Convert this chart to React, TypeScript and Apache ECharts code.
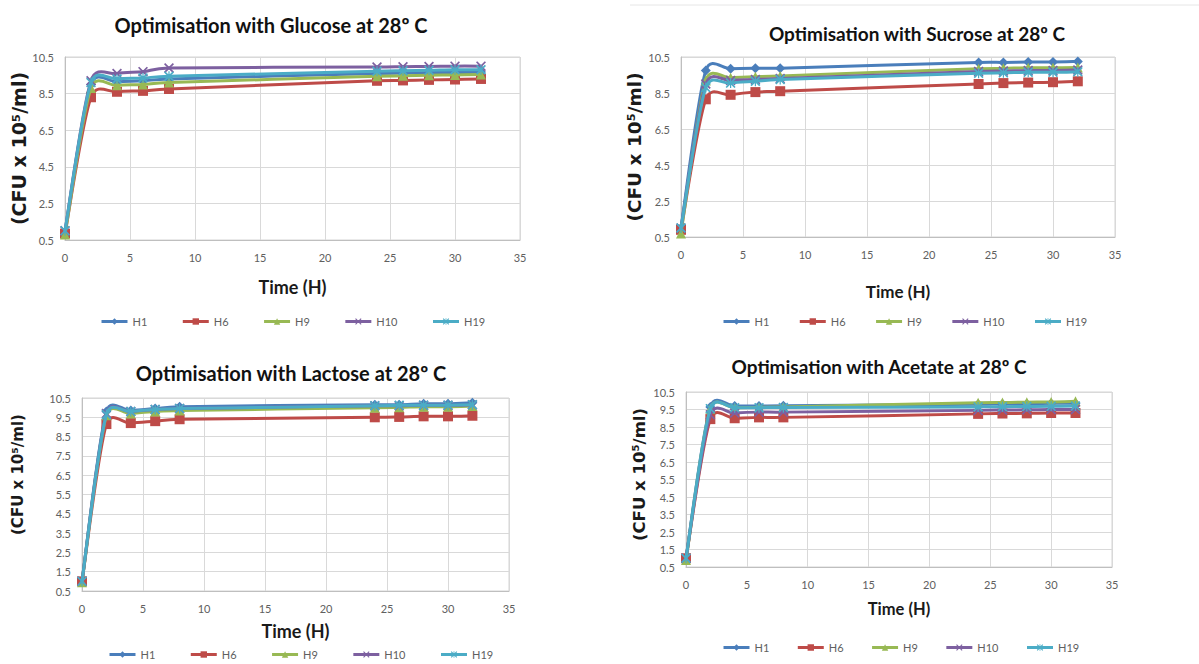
import React, { useEffect, useRef } from 'react';
import * as echarts from 'echarts';

// ---------- data ----------
const times = [0, 2, 4, 6, 8, 24, 26, 28, 30, 32];
const seriesNames = ['H1', 'H6', 'H9', 'H10', 'H19'];

const glucoseH1 = [0.95, 9.0, 9.15, 9.2, 9.3, 9.6, 9.62, 9.65, 9.65, 9.68];
const glucoseH6 = [0.85, 8.3, 8.6, 8.65, 8.75, 9.2, 9.22, 9.25, 9.27, 9.3];
const glucoseH9 = [0.8, 8.8, 8.95, 9.0, 9.1, 9.45, 9.47, 9.5, 9.52, 9.55];
const glucoseH10 = [1.0, 9.2, 9.6, 9.7, 9.9, 9.95, 9.97, 9.98, 10.0, 10.0];
const glucoseH19 = [1.0, 9.1, 9.3, 9.35, 9.45, 9.72, 9.75, 9.77, 9.8, 9.8];

const sucroseH1 = [1.0, 9.75, 9.85, 9.88, 9.88, 10.2, 10.2, 10.22, 10.22, 10.25];
const sucroseH6 = [0.9, 8.15, 8.4, 8.55, 8.6, 9.0, 9.05, 9.08, 9.1, 9.15];
const sucroseH9 = [0.7, 9.2, 9.35, 9.4, 9.45, 9.85, 9.87, 9.9, 9.9, 9.92];
const sucroseH10 = [1.0, 9.0, 9.2, 9.25, 9.3, 9.7, 9.72, 9.75, 9.75, 9.78];
const sucroseH19 = [1.0, 8.8, 9.05, 9.15, 9.25, 9.6, 9.62, 9.65, 9.65, 9.68];

const lactoseH1 = [1.0, 9.8, 9.85, 9.95, 10.05, 10.15, 10.15, 10.2, 10.2, 10.25];
const lactoseH6 = [1.0, 9.15, 9.2, 9.3, 9.4, 9.5, 9.52, 9.55, 9.55, 9.58];
const lactoseH9 = [0.95, 9.6, 9.7, 9.8, 9.85, 10.0, 10.02, 10.05, 10.05, 10.08];
const lactoseH10 = [1.0, 9.7, 9.8, 9.9, 9.95, 10.1, 10.1, 10.12, 10.12, 10.15];
const lactoseH19 = [1.0, 9.65, 9.8, 9.9, 9.95, 10.1, 10.12, 10.13, 10.13, 10.15];

const acetateH1 = [1.0, 9.65, 9.7, 9.7, 9.72, 9.8, 9.82, 9.82, 9.85, 9.85];
const acetateH6 = [1.0, 8.95, 9.0, 9.05, 9.05, 9.25, 9.27, 9.28, 9.3, 9.3];
const acetateH9 = [0.9, 9.55, 9.6, 9.62, 9.65, 9.88, 9.9, 9.92, 9.93, 9.97];
const acetateH10 = [1.0, 9.2, 9.3, 9.35, 9.35, 9.45, 9.47, 9.48, 9.5, 9.5];
const acetateH19 = [1.0, 9.55, 9.6, 9.6, 9.62, 9.65, 9.66, 9.67, 9.68, 9.7];

const titles = [
  'Optimisation with Glucose at 28º C',
  'Optimisation with Sucrose at 28º C',
  'Optimisation with Lactose at 28º C',
  'Optimisation with Acetate at 28º C',
];
const yAxisName = '(CFU x 10⁵/ml)';
const xAxisName = 'Time (H)';

// ---------- styling / layout ----------
const FONT = 'Lato, "Open Sans", sans-serif';
const YFONT = '"DejaVu Sans", Verdana, sans-serif';
const colors = ['#4A7EBB', '#BE4B48', '#98B954', '#7D60A0', '#4BACC6'];
const xSym = 'path://M0,1.2 L1.2,0 L5,3.8 L8.8,0 L10,1.2 L6.2,5 L10,8.8 L8.8,10 L5,6.2 L1.2,10 L0,8.8 L3.8,5 Z';
const starSym =
  'path://M0,1.2 L1.2,0 L5,3.8 L8.8,0 L10,1.2 L6.2,5 L10,8.8 L8.8,10 L5,6.2 L1.2,10 L0,8.8 L3.8,5 Z M4.4,0 L5.6,0 L5.6,10 L4.4,10 Z';
const symbols = ['diamond', 'rect', 'triangle', xSym, starSym];
const symbolSizes = [10, 10, 10, 10, 10];

const panels = [
  {
    data: [glucoseH1, glucoseH6, glucoseH9, glucoseH10, glucoseH19],
    grid: { left: 65, top: 57, width: 455, height: 183 },
    yInterval: 2,
    title: { x: 271, y: 25, size: 20 },
    yName: { size: 19, gap: 37, shift: 0 },
    xName: { size: 18, gap: 38 },
    legend: { left: 100, top: 316, gap: 34 },
  },
  {
    data: [sucroseH1, sucroseH6, sucroseH9, sucroseH10, sucroseH19],
    grid: { left: 681, top: 57, width: 434, height: 180 },
    yInterval: 2,
    title: { x: 917, y: 33, size: 19 },
    yName: { size: 18.5, gap: 33, shift: 0 },
    xName: { size: 17, gap: 46 },
    legend: { left: 722, top: 316, gap: 29 },
  },
  {
    data: [lactoseH1, lactoseH6, lactoseH9, lactoseH10, lactoseH19],
    grid: { left: 82, top: 398, width: 427, height: 193 },
    yInterval: 1,
    title: { x: 291, y: 373, size: 20 },
    yName: { size: 15, gap: 57, shift: 40 },
    xName: { size: 18, gap: 31 },
    legend: { left: 108, top: 649, gap: 34 },
  },
  {
    data: [acetateH1, acetateH6, acetateH9, acetateH10, acetateH19],
    grid: { left: 686, top: 392, width: 426, height: 175 },
    yInterval: 1,
    title: { x: 879, y: 366, size: 19 },
    yName: { size: 16.5, gap: 38, shift: 10 },
    xName: { size: 16.5, gap: 33 },
    legend: { left: 722, top: 642, gap: 27 },
  },
];

// Excel-like smoothed segment (Catmull-Rom tangents, capped to a share of the segment length),
// drawn in pixel space from the axes' own coordinate conversion.
const TENSION = 1 / 6;
const CAP = 0.62;
function makeRenderItem(vals: number[], color: string) {
  return (params: any, api: any) => {
    const k = params.dataIndex;
    const n = times.length;
    if (k >= n - 1) return null;
    const P = (idx: number) => {
      const c = Math.max(0, Math.min(n - 1, idx));
      return api.coord([times[c], vals[c]]);
    };
    const p0 = P(k - 1);
    const p1 = P(k);
    const p2 = P(k + 1);
    const p3 = P(k + 2);
    const segLen = Math.hypot(p2[0] - p1[0], p2[1] - p1[1]);
    const off = (a: number[], b: number[]) => {
      let dx = (b[0] - a[0]) * TENSION;
      let dy = (b[1] - a[1]) * TENSION;
      const len = Math.hypot(dx, dy);
      const max = segLen * CAP;
      if (len > max && len > 0) {
        dx *= max / len;
        dy *= max / len;
      }
      return [dx, dy];
    };
    const o1 = off(p0, p2);
    const o2 = off(p1, p3);
    return {
      type: 'bezierCurve',
      shape: {
        x1: p1[0],
        y1: p1[1],
        x2: p2[0],
        y2: p2[1],
        cpx1: p1[0] + o1[0],
        cpy1: p1[1] + o1[1],
        cpx2: p2[0] - o2[0],
        cpy2: p2[1] - o2[1],
      },
      style: { stroke: color, lineWidth: 3, fill: 'none', lineCap: 'round' },
    };
  };
}

function buildOption() {
  const grid: any[] = [];
  const xAxis: any[] = [];
  const yAxis: any[] = [];
  const legend: any[] = [];
  const series: any[] = [];
  const graphic: any[] = [];

  panels.forEach((p, i) => {
    grid.push({
      ...p.grid,
      show: true,
      borderColor: '#d4d4d4',
      borderWidth: 1,
      containLabel: false,
    });
    xAxis.push({
      type: 'value',
      gridIndex: i,
      min: 0,
      max: 35,
      interval: 5,
      name: xAxisName,
      nameLocation: 'middle',
      nameGap: p.xName.gap,
      nameTextStyle: {
        fontFamily: FONT,
        fontWeight: 'bold',
        fontSize: p.xName.size,
        color: '#1a1a1a',
        verticalAlign: 'top',
      },
      axisLine: { show: true, lineStyle: { color: '#bfbfbf' } },
      axisTick: { show: false },
      axisLabel: { fontFamily: FONT, fontSize: 11, color: '#606060', margin: 12 },
      splitLine: { show: true, lineStyle: { color: '#d9d9d9' } },
    });
    yAxis.push({
      type: 'value',
      gridIndex: i,
      min: 0.5,
      max: 10.5,
      interval: p.yInterval,
      name: yAxisName,
      nameLocation: 'middle',
      nameRotate: 90,
      nameGap: p.yName.gap,
      nameTextStyle: {
        fontFamily: YFONT,
        fontWeight: 'bold',
        fontSize: p.yName.size,
        color: '#1a1a1a',
        padding: [0, 0, 0, p.yName.shift],
      },
      axisLine: { show: true, lineStyle: { color: '#bfbfbf' } },
      axisTick: { show: false },
      axisLabel: {
        fontFamily: FONT,
        fontSize: 11,
        color: '#606060',
        margin: 11,
        formatter: (v: number) => v.toFixed(1),
      },
      splitLine: { show: true, lineStyle: { color: '#d9d9d9' } },
    });
    legend.push({
      data: seriesNames,
      left: p.legend.left,
      top: p.legend.top,
      padding: 0,
      itemGap: p.legend.gap,
      itemWidth: 26,
      itemHeight: 8,
      lineStyle: { opacity: 1, width: 3 },
      textStyle: { fontFamily: FONT, fontSize: 11, color: '#606060' },
      selectedMode: false,
    });
    p.data.forEach((vals, j) => {
      // markers (line itself hidden; the smoothed curve is drawn by the custom series)
      series.push({
        type: 'line',
        name: seriesNames[j],
        xAxisIndex: i,
        yAxisIndex: i,
        data: times.map((t, k) => [t, vals[k]]),
        symbol: symbols[j],
        symbolSize: symbolSizes[j],
        showSymbol: true,
        lineStyle: { width: 3, color: colors[j], opacity: 0 },
        itemStyle: { color: colors[j] },
        z: 3 + 2 * j,
      });
      series.push({
        type: 'custom',
        name: seriesNames[j],
        xAxisIndex: i,
        yAxisIndex: i,
        coordinateSystem: 'cartesian2d',
        data: times.map((t, k) => [t, vals[k]]),
        encode: { x: 0, y: 1 },
        renderItem: makeRenderItem(vals, colors[j]),
        z: 2 + 2 * j,
        silent: true,
      });
    });
    graphic.push({
      type: 'text',
      x: p.title.x,
      y: p.title.y,
      style: {
        text: titles[i],
        font: `bold ${p.title.size}px ${FONT}`,
        fill: '#111',
        textAlign: 'center',
        textVerticalAlign: 'middle',
        align: 'center',
        verticalAlign: 'middle',
      },
    });
  });

  graphic.push({
    type: 'line',
    shape: { x1: 630, y1: 5, x2: 1199, y2: 5 },
    style: { stroke: '#e6e6e6', lineWidth: 1 },
  });

  return {
    animation: false,
    backgroundColor: '#ffffff',
    grid,
    xAxis,
    yAxis,
    legend,
    series,
    graphic,
  };
}

export default function App() {
  const ref = useRef<HTMLDivElement>(null);
  useEffect(() => {
    if (!ref.current) return;
    const chart = echarts.init(ref.current, undefined, { renderer: 'svg' });
    chart.setOption(buildOption() as any);
    return () => chart.dispose();
  }, []);
  return (
    <div
      ref={ref}
      style={{ position: 'absolute', left: 0, top: 0, width: 1199, height: 664, background: '#fff' }}
    />
  );
}
